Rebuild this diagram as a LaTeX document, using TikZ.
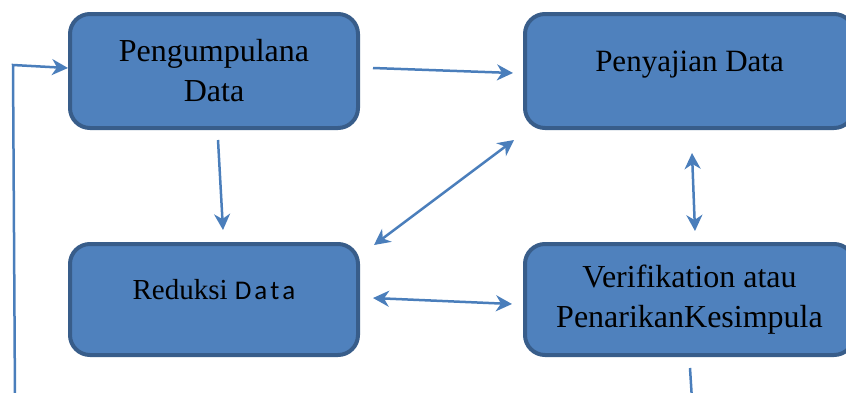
\documentclass[tikz,border=0pt]{standalone}
\usepackage{fontspec}
\setmainfont{Liberation Serif}
\newfontfamily\calfont{Carlito}
\usepackage{tikz}
\usetikzlibrary{positioning, arrows.meta}
\definecolor{boxfill}{HTML}{4F81BD}
\definecolor{boxline}{HTML}{385D8A}
\definecolor{arrowblue}{HTML}{4A7EBB}

\begin{document}
\begin{tikzpicture}[x=0.5pt, y=-0.5pt,
box/.style = {
draw=boxline,
fill=boxfill,
line width=2pt,
rounded corners=10pt,
align=center,
minimum width=144pt,
minimum height=57pt,
font=\fontsize{16}{20}\selectfont
},
oneline/.style = {text height=8pt, text depth=8pt},
link/.style = {draw=arrowblue, line width=1.25pt},
wordtip/.tip = {Stealth[length=8pt, width=8pt, inset=2.5pt]},
twoway/.style = {arrows = {wordtip-wordtip}},
arrows = {-wordtip}]

\clip (0,0) rectangle (846,392);

% boxes
\node[box] (kumpul) at (214,71) {Pengumpulana\\Data};
\node[box, oneline, minimum width=164.5pt, font=\fontsize{15.5}{20}\selectfont] (sajian) [right = 81.5pt of kumpul] {Penyajian Data};
\node[box, oneline, minimum height=55.5pt, font=\fontsize{14.5}{18}\selectfont] (reduksi) [below = 56pt of kumpul] {Reduksi {\calfont\fontsize{13.5}{16}\selectfont D\kern1.5pt a\kern1.5pt t\kern1.5pt a}};
\node[box, minimum width=164.5pt, minimum height=55.5pt] (simpul) [below = 56pt of sajian] {Verifikation atau\\PenarikanKesimpula};

% connections
\coordinate (awal) at (15,400);
\coordinate (belok) at (13,65);
\coordinate (bawah) at (692,400);
\draw[link] (awal) -- (belok) -- ([yshift=1.5pt]kumpul.west);
\draw[link] ([shift={(13,-3)}]kumpul.east) -- ([shift={(-10,2)}]sajian.west);
\draw[link] ([shift={(4,10)}]kumpul.south) -- ([shift={(9,-12)}]reduksi.north);
\draw[link, twoway] ([shift={(14,3)}]reduksi.north east) -- ([shift={(-9,10)}]sajian.south west);
\draw[link, twoway] ([shift={(2.5,23)}]sajian.south) -- ([shift={(5.5,-11)}]simpul.north);
\draw[link, twoway] ([shift={(13,-1.5)}]reduksi.east) -- ([shift={(-11,4.5)}]simpul.west);
\draw[link, -] ([shift={(0.5,11)}]simpul.south) -- (bawah);

\end{tikzpicture}
\end{document}
